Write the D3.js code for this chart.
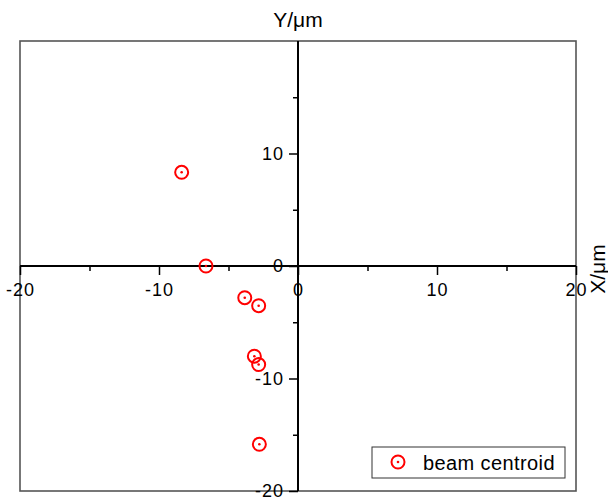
<!DOCTYPE html>
<html>
<head>
<meta charset="utf-8">
<script src="https://cdnjs.cloudflare.com/ajax/libs/d3/7.8.5/d3.min.js"></script>
<style>
  body{margin:0;background:#fff;}
  text{font-family:"Liberation Sans",Arial,sans-serif;}
</style>
</head>
<body>
<div id="plot"></div>
<script>
// beam centroid positions (um)
var xVals=[-8.37,-6.62,-3.83,-2.83,-3.14,-2.83,-2.78];
var yVals=[8.33,0,-2.82,-3.53,-8.02,-8.76,-15.85];
var xMajor=[-20,-10,0,10,20];
var xMinor=[-15,-5,5,15];
var yMajor=[-20,-10,0,10];
var yMinor=[-15,-5,5,15];
var seriesName='beam centroid';
var red='#ff0000';

var width=608, height=498;
var plotL=20, plotR=576, plotT=41, plotB=491;

var svg=d3.select('#plot').append('svg')
  .attr('width',width)
  .attr('height',height);

var x=d3.scaleLinear().domain([-20,20]).range([plotL,plotR]);
var y=d3.scaleLinear().domain([-20,20]).range([plotB,plotT]);

function fmt(d){return d<0 ? '-'+Math.abs(d) : ''+d;}

// frame
svg.append('rect')
  .attr('x',plotL).attr('y',plotT)
  .attr('width',plotR-plotL).attr('height',plotB-plotT)
  .attr('fill','none')
  .attr('stroke','#555')
  .attr('stroke-width',1.6);

// x axis through y=0
var gx=svg.append('g').attr('transform','translate(0,'+y(0)+')');
gx.append('g').call(d3.axisBottom(x).tickValues(xMinor).tickSize(5).tickFormat(''));
gx.append('g').attr('class','major').call(d3.axisBottom(x).tickValues(xMajor).tickSize(9).tickPadding(8).tickFormat(fmt));
gx.selectAll('.domain').remove();
gx.append('line').attr('x1',plotL).attr('x2',plotR).attr('stroke','#000').attr('stroke-width',2);

// y axis through x=0
var gy=svg.append('g').attr('transform','translate('+x(0)+',0)');
gy.append('g').call(d3.axisLeft(y).tickValues(yMinor).tickSize(5).tickFormat(''));
gy.append('g').attr('class','major').call(d3.axisLeft(y).tickValues(yMajor).tickSize(9).tickPadding(5).tickFormat(fmt));
gy.selectAll('.domain').remove();
gy.append('line').attr('y1',plotT).attr('y2',plotB).attr('stroke','#000').attr('stroke-width',2);

svg.selectAll('.tick line').attr('stroke','#000').attr('stroke-width',1.5);
svg.selectAll('.major .tick text')
  .attr('fill','#000')
  .style('font-size','18px')
  .style('font-family','"Liberation Sans",Arial,sans-serif')
  .style('letter-spacing','1px');

// axis titles
svg.append('text')
  .attr('x',x(0)).attr('y',27)
  .attr('text-anchor','middle')
  .style('font-size','21px')
  .text('Y/\u03bcm');

svg.append('text')
  .attr('transform','translate(605,'+(y(0)+3)+') rotate(-90)')
  .attr('text-anchor','middle')
  .style('font-size','21px')
  .text('X/\u03bcm');

// points
var pts=xVals.map(function(d,i){return {x:d,y:yVals[i]};});
var g=svg.append('g');
g.selectAll('circle.ring')
  .data(pts)
  .enter()
  .append('circle')
  .attr('class','ring')
  .attr('cx',function(d){return x(d.x);})
  .attr('cy',function(d){return y(d.y);})
  .attr('r',6.5)
  .attr('fill','none')
  .attr('stroke',red)
  .attr('stroke-width',2);
g.selectAll('circle.dot')
  .data(pts)
  .enter()
  .append('circle')
  .attr('class','dot')
  .attr('cx',function(d){return x(d.x);})
  .attr('cy',function(d){return y(d.y);})
  .attr('r',1.3)
  .attr('fill',red);

// legend
var lg=svg.append('g');
lg.append('rect')
  .attr('x',372).attr('y',447)
  .attr('width',193).attr('height',31)
  .attr('fill','#fff')
  .attr('stroke','#333')
  .attr('stroke-width',1);
lg.append('circle').attr('cx',398).attr('cy',462).attr('r',6.5)
  .attr('fill','none').attr('stroke',red).attr('stroke-width',2);
lg.append('circle').attr('cx',398).attr('cy',462).attr('r',1.3).attr('fill',red);
lg.append('text')
  .attr('x',423).attr('y',469.5)
  .style('font-size','20px')
  .style('letter-spacing','0.4px')
  .text(seriesName);
</script>
</body>
</html>
